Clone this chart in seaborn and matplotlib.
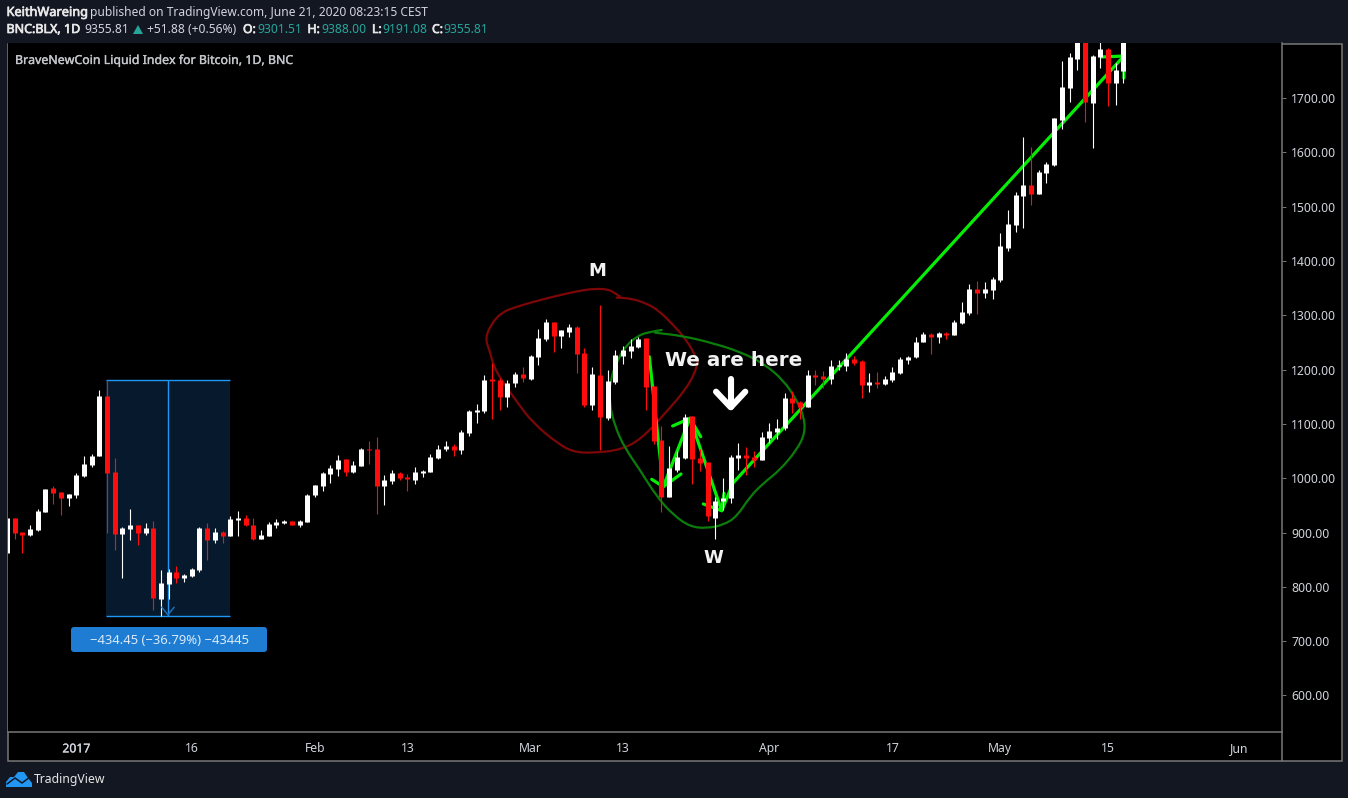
import matplotlib
matplotlib.use('Agg')
import matplotlib.pyplot as plt
import matplotlib.patheffects as pe
from matplotlib.patches import FancyBboxPatch, PathPatch, Polygon, Rectangle
from matplotlib.path import Path
import pandas as pd
import seaborn as sns

# daily candles, day 0 = 1 Jan 2017
first_day = -9
opens = [863, 927, 901, 895, 905, 938, 982, 975, 964, 970, 1005, 1024, 1040, 1151, 1011, 898, 907, 914, 899, 908,
         778, 806, 827, 816, 820, 831, 908, 886, 901, 894, 923, 927, 914, 888, 894, 914, 918, 921, 914, 919,
         969, 986, 1008, 1017, 1035, 1011, 1022, 1054, 1054, 986, 995, 1010, 1002, 997, 1010, 1011, 1037, 1054, 1059, 1052,
         1083, 1122, 1124, 1183, 1181, 1150, 1175, 1192, 1183, 1223, 1256, 1288, 1262, 1269, 1278, 1230, 1135, 1190, 1111, 1177,
         1225, 1234, 1242, 1258, 1170, 1070, 965, 1015, 1037, 1115, 1037, 1030, 927, 958, 964, 1037, 1043, 1039, 1034, 1074,
         1085, 1092, 1148, 1140, 1131, 1190, 1188, 1183, 1207, 1207, 1219, 1216, 1172, 1177, 1173, 1181, 1194, 1218, 1223, 1251,
         1265, 1260, 1267, 1264, 1286, 1304, 1348, 1341, 1346, 1365, 1424, 1466, 1520, 1540, 1523, 1562, 1577, 1660, 1718, 1772,
         1830, 1691, 1775, 1790, 1728, 1750]
highs = [927, 927, 901, 914, 943, 981, 986, 975, 971, 1010, 1040, 1044, 1162, 1181, 1037, 910, 943, 914, 918, 921,
         831, 832, 838, 823, 835, 910, 918, 908, 903, 930, 940, 932, 927, 905, 919, 925, 923, 922, 923, 971,
         988, 1011, 1024, 1043, 1035, 1032, 1056, 1068, 1076, 1006, 1015, 1011, 1008, 1021, 1015, 1045, 1061, 1068, 1063, 1089,
         1126, 1137, 1190, 1212, 1185, 1181, 1196, 1205, 1227, 1275, 1293, 1288, 1273, 1284, 1280, 1240, 1205, 1319, 1199, 1236,
         1243, 1256, 1260, 1258, 1170, 1096, 1059, 1050, 1118, 1115, 1054, 1030, 965, 1000, 1043, 1065, 1058, 1050, 1085, 1102,
         1109, 1157, 1161, 1142, 1199, 1199, 1197, 1218, 1218, 1230, 1225, 1218, 1194, 1195, 1188, 1205, 1223, 1225, 1260, 1269,
         1267, 1269, 1269, 1291, 1324, 1358, 1363, 1361, 1370, 1451, 1494, 1527, 1628, 1610, 1567, 1582, 1663, 1768, 1783, 1850,
         1850, 1780, 1815, 1792, 1764, 1830]
lows = [863, 889, 863, 894, 902, 938, 953, 932, 948, 964, 1003, 1021, 1040, 899, 867, 817, 886, 877, 896, 758,
        747, 778, 807, 809, 819, 828, 850, 881, 881, 894, 894, 912, 886, 888, 894, 908, 916, 913, 910, 919,
        966, 976, 991, 1004, 1004, 1010, 1022, 1026, 934, 951, 989, 997, 976, 989, 1002, 1011, 1035, 1050, 1041, 1045,
        1078, 1102, 1120, 1109, 1126, 1131, 1168, 1177, 1181, 1208, 1253, 1232, 1240, 1260, 1194, 1131, 1126, 1052, 1107, 1173,
        1210, 1221, 1240, 1126, 1063, 938, 965, 1011, 1035, 989, 1013, 921, 888, 941, 954, 1015, 1006, 1021, 1034, 1065,
        1072, 1089, 1120, 1109, 1131, 1172, 1166, 1173, 1199, 1197, 1208, 1148, 1159, 1166, 1172, 1177, 1192, 1210, 1221, 1251,
        1229, 1249, 1256, 1264, 1284, 1300, 1302, 1332, 1330, 1361, 1418, 1453, 1461, 1503, 1523, 1544, 1575, 1643, 1693, 1752,
        1656, 1608, 1755, 1685, 1687, 1728]
closes = [927, 900, 895, 907, 940, 981, 973, 964, 971, 1006, 1026, 1040, 1151, 1010, 898, 908, 914, 900, 908, 780,
          807, 827, 816, 822, 833, 908, 886, 901, 894, 925, 927, 914, 888, 895, 916, 919, 921, 914, 921, 969,
          988, 1010, 1019, 1033, 1011, 1024, 1054, 1052, 986, 997, 1010, 1000, 998, 1011, 1013, 1039, 1054, 1059, 1052, 1085,
          1124, 1126, 1181, 1179, 1150, 1175, 1192, 1185, 1225, 1258, 1288, 1262, 1273, 1278, 1229, 1135, 1192, 1113, 1179, 1227,
          1236, 1243, 1256, 1168, 1069, 965, 1019, 1039, 1113, 1035, 1028, 930, 958, 964, 1039, 1043, 1037, 1034, 1076, 1087,
          1092, 1148, 1139, 1131, 1190, 1186, 1183, 1207, 1208, 1219, 1212, 1172, 1177, 1173, 1183, 1195, 1219, 1223, 1251, 1265,
          1260, 1267, 1264, 1288, 1306, 1348, 1341, 1348, 1367, 1427, 1468, 1521, 1540, 1523, 1564, 1578, 1663, 1720, 1776, 1830,
          1693, 1777, 1790, 1728, 1752, 1815]

y_ticks = [600, 700, 800, 900, 1000, 1100, 1200, 1300, 1400, 1500, 1600, 1700]
x_ticks = [0, 15, 31, 43, 59, 71, 90, 106, 120, 134, 151]
x_labels = ['2017', '16', 'Feb', '13', 'Mar', '13', 'Apr', '17', 'May', '15', 'Jun']

# hand drawn shapes on the chart (day, price)
red_days = [70.61, 69.74, 68.88, 67.58, 65.84, 63.25, 60.22, 57.19, 55.25, 53.95, 53.08, 53.73, 54.16, 55.03, 57.23, 59.31,
            62.43, 64.51, 67.1, 70.61, 73.21, 76.06, 79.44, 80.74, 80.57, 79.27, 77.53, 75.81, 74.08, 71.91, 70.18]
red_prices = [1334.2, 1343.4, 1347.8, 1348.9, 1346.5, 1338.6, 1328.1, 1315.8, 1305.5, 1285.2, 1257.6, 1232.9, 1208.5, 1184.5,
              1140.3, 1101.7, 1064.9, 1048.3, 1046.4, 1052, 1070.4, 1112.7, 1168, 1208.5, 1220.8, 1254.5, 1282.1, 1306.6,
              1322, 1331.2, 1332.4]
green_days = [76.03, 74.08, 72.78, 71.48, 70.39, 69.31, 69.22, 69.96, 71.26, 73.21, 75.38, 77.53, 79.7, 81.87, 84.03, 85.77,
              87.49, 89.22, 91.39, 93.56, 94.64, 94.51, 93.56, 91.82, 89.22, 86.19, 82.73, 78.83, 75.16]
green_prices = [1272.9, 1268.7, 1260.6, 1245.3, 1220.8, 1180.8, 1138, 1094.9, 1055.1, 1015.1, 966, 932.3, 910.8, 907.8, 913.9,
                929.2, 966, 990.7, 1015.1, 1052, 1082.7, 1113.3, 1144, 1180.8, 1211.6, 1232.9, 1248.4, 1261.8, 1267.9]
zigzag_days = [74.42, 76.23, 79.7, 83.82, 85.29, 136.06]
zigzag_prices = [1223.7, 984.4, 1110.3, 940.2, 991.2, 1777.3]
arrow_heads = [
    ([74.73, 76.23, 78.53], [998, 984.4, 1007.8]),
    ([77.45, 79.7, 81.09], [1096.2, 1110.3, 1076.5]),
    ([81.43, 83.82, 84.12], [952.6, 940.2, 972.2]),
    ([133.2, 136.06, 136.06], [1775.5, 1777.3, 1736.8]),
]
here_stem_days = [84.99, 84.99]
here_stem_prices = [1182.1, 1130.6]
here_head_days = [83.08, 84.99, 86.88]
here_head_prices = [1159.3, 1130.6, 1159.3]

# measure tool
tool_start, tool_end, tool_mid = 3.9, 20, 11.9
tool_high, tool_low = 1180.9, 746.45

sns.set_theme(style='dark', rc={'axes.grid': False})
plt.rcParams['font.family'] = ['Noto Sans', 'DejaVu Sans']

BG = '#131722'
FRAME = '#787878'
TXT = '#d1d4dc'
TEAL = '#26a69a'
BLUE = '#2196f3'
LIME = '#06ee06'

days = list(range(first_day, first_day + len(opens)))
candles = pd.DataFrame({'day': days, 'open': opens, 'high': highs, 'low': lows, 'close': closes})
candles['kind'] = ['up' if c >= o else 'down' for o, c in zip(opens, closes)]
wicks = candles.melt(id_vars=['day', 'kind'], value_vars=['low', 'high'], value_name='price')
bodies = candles.melt(id_vars=['day', 'kind'], value_vars=['open', 'close'], value_name='price')

fig = plt.figure(figsize=(13.48, 7.98), dpi=100, facecolor=BG)


def pixel_axes(zorder):
    a = fig.add_axes([0, 0, 1, 1], zorder=zorder)
    a.set_xlim(0, 1348)
    a.set_ylim(798, 0)
    a.axis('off')
    return a


def draw_path(a, xs, ys, color, width, zorder=2):
    sns.lineplot(x=xs, y=ys, sort=False, estimator=None, color=color, linewidth=width, ax=a, zorder=zorder,
                 solid_capstyle='round', solid_joinstyle='round')


def draw_blob(a, xs, ys, color):
    # freehand loop, the points act as curve controls
    pts = list(zip(xs, ys))
    verts = [pts[0]]
    codes = [Path.MOVETO]
    for i in range(1, len(pts) - 1):
        mid = ((pts[i][0] + pts[i + 1][0]) / 2, (pts[i][1] + pts[i + 1][1]) / 2)
        verts += [pts[i], mid]
        codes += [Path.CURVE3, Path.CURVE3]
    verts.append(pts[-1])
    codes.append(Path.LINETO)
    a.add_patch(PathPatch(Path(verts, codes), facecolor='none', edgecolor=color, linewidth=1.6, capstyle='round', zorder=2))


def fat(text, size=0.35):
    text.set_path_effects([pe.withStroke(linewidth=size, foreground=text.get_color())])
    return text


back = pixel_axes(0)
back.add_patch(Rectangle((7.5, 43.5), 1334, 717.5, facecolor='black', edgecolor=FRAME, linewidth=1.1))
back.plot([1281.5, 1281.5], [732, 761], color=FRAME, linewidth=1.1)

ax = fig.add_axes([7.5 / 1348, 66 / 798, 1274 / 1348, 688.5 / 798], zorder=1)
ax.set_facecolor('black')

# measure box goes behind the candles
ax.fill_between([tool_start, tool_end], tool_low, tool_high, color='#071a2d', linewidth=0, zorder=1)
ax.hlines([tool_high, tool_low], tool_start, tool_end, color=BLUE, linewidth=1, zorder=1.5)
ax.vlines(tool_mid, tool_low, tool_high, color=BLUE, linewidth=1, zorder=1.5)

draw_blob(ax, red_days, red_prices, '#7d0707')
draw_blob(ax, green_days, green_prices, '#0b7d0b')
draw_path(ax, zigzag_days, zigzag_prices, LIME, 2.3)
for hx, hy in arrow_heads:
    draw_path(ax, hx, hy, LIME, 2.3)

palette = {'up': 'white', 'down': '#ff0d0d'}
sns.lineplot(data=wicks, x='day', y='price', hue='kind', units='day', estimator=None, sort=False, palette=palette,
             legend=False, linewidth=0.8, solid_capstyle='butt', ax=ax, zorder=3)
sns.lineplot(data=bodies, x='day', y='price', hue='kind', units='day', estimator=None, sort=False, palette=palette,
             legend=False, linewidth=3.6, solid_capstyle='butt', ax=ax, zorder=3.5)

draw_path(ax, [tool_mid - 0.8, tool_mid, tool_mid + 0.8], [tool_low + 16, tool_low + 2, tool_low + 16], '#1c6fb8', 1.1, 4)

for tx, ty, label, size in [(67.6, 1381.5, 'M', 13), (82.8, 853.5, 'W', 13), (85.4, 1216, 'We are here', 14.4)]:
    ax.text(tx, ty, label, color='#f2f2f2', fontsize=size, fontweight='bold', family='DejaVu Sans',
            ha='center', va='center', zorder=5)
draw_path(ax, here_stem_days, here_stem_prices, 'white', 4.4, 5)
draw_path(ax, here_head_days, here_head_prices, 'white', 4.4, 5)

ax.set_xlim(-8.935, 156.52)
ax.set_ylim(532.8, 1800.3)
ax.set_xlabel('')
ax.set_ylabel('')
ax.set_xticks(x_ticks, x_labels)
ax.set_yticks(y_ticks, [f'{v:.2f}' for v in y_ticks])
ax.yaxis.tick_right()
ax.tick_params(axis='x', length=2.5, width=0.7, color=FRAME, labelcolor=TXT, labelsize=8.8, pad=5)
ax.tick_params(axis='y', length=3, width=0.7, color=FRAME, labelcolor=TXT, labelsize=8.8, pad=4)
fat(ax.get_xticklabels()[0], 0.2)
for side in ['top', 'left']:
    ax.spines[side].set_visible(False)
for side in ['right', 'bottom']:
    ax.spines[side].set_color(FRAME)
    ax.spines[side].set_linewidth(1.1)

front = pixel_axes(2)
front.add_patch(FancyBboxPatch((73, 629), 192, 21, boxstyle='round,pad=2,rounding_size=3', facecolor='#1e7dd2', edgecolor='none'))
front.text(169, 640, '−434.45 (−36.79%) −43445', color='#d9e9f8', fontsize=9.4, ha='center', va='center')
fat(front.text(15, 60.5, 'BraveNewCoin Liquid Index for Bitcoin, 1D, BNC', color='#c4c6cc', fontsize=8.9, va='center'), 0.25)

# header lines
fat(front.text(6.5, 12.5, 'KeithWareing', color='#e8e8e8', fontsize=9.2, va='center'), 0.5)
front.text(90.5, 12.5, 'published on TradingView.com, June 21, 2020 08:23:15 CEST', color=TXT, fontsize=8.65, va='center')
fat(front.text(6.5, 29.5, 'BNC:BLX, 1D', color='#e8e8e8', fontsize=9, va='center'), 0.5)
front.text(84.5, 29.5, '9355.81', color=TXT, fontsize=8.7, va='center')
front.add_patch(Polygon([(133, 34), (143, 34), (138, 25)], facecolor=TEAL, edgecolor='none'))
front.text(147, 29.5, '+51.88 (+0.56%)', color=TXT, fontsize=8.7, va='center')
for x_lab, lab, x_val, val in [(243, 'O:', 257, '9301.51'), (307.5, 'H:', 321, '9388.00'),
                               (372, 'L:', 382, '9191.08'), (432, 'C:', 443, '9355.81')]:
    fat(front.text(x_lab, 29.5, lab, color='#e8e8e8', fontsize=8.8, va='center'), 0.5)
    front.text(x_val, 29.5, val, color=TEAL, fontsize=8.7, va='center')

# logo
front.add_patch(Polygon([(6, 787), (6, 782), (10, 777), (14, 777), (18, 772), (24, 772), (28, 778), (32, 783), (32, 787)],
                        facecolor=BLUE, edgecolor='none'))
front.plot([7, 15, 22, 30], [784, 778, 783, 777], color=BG, linewidth=1.1)
front.text(34, 780, 'TradingView', color='#e6e6e6', fontsize=8.8, va='center')

fig.savefig('out.png', dpi=100, facecolor=BG)
